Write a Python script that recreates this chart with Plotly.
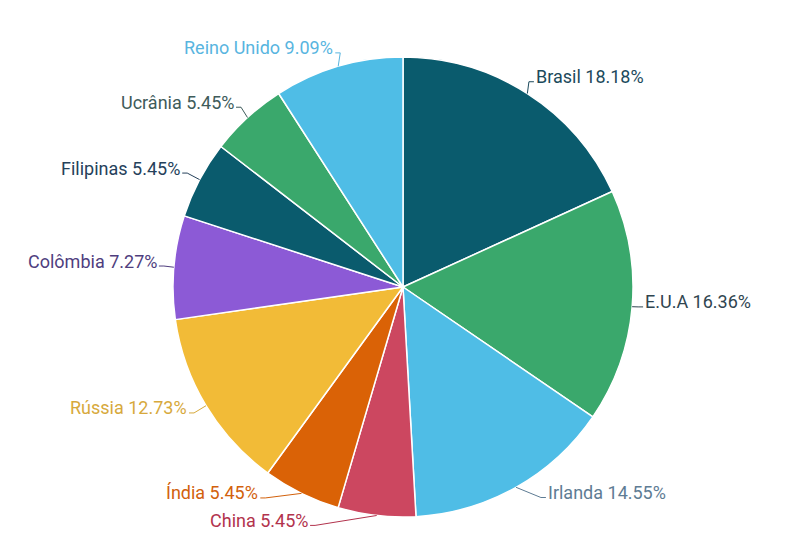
import math
import plotly.graph_objects as go

labels = ["Brasil", "E.U.A", "Irlanda", "China", "Índia", "Rússia",
          "Colômbia", "Filipinas", "Ucrânia", "Reino Unido"]
values = [18.18, 16.36, 14.55, 5.45, 5.45, 12.73, 7.27, 5.45, 5.45, 9.09]
slice_colors = ["#0a5b6d", "#3aa86c", "#4fbde6", "#cc4760", "#da6206",
                "#f2bb37", "#8c5ad6", "#0a5b6d", "#3aa86c", "#4fbde6"]
text_colors = ["#1c4a5c", "#2f4550", "#5e7c94", "#b2334d", "#d2610c",
               "#d7a93c", "#4f3e7e", "#25415b", "#3e5b5a", "#58b5df"]

W, H = 808, 536
OFF = 8  # page body margin shifts the figure
CX, CY, R = 403 - OFF, 287 - OFF, 230

fig = go.Figure(go.Pie(
    labels=labels, values=values, sort=False, direction="clockwise", rotation=0,
    marker=dict(colors=slice_colors, line=dict(color="white", width=1.5)),
    textinfo="none", hoverinfo="label+percent",
    domain=dict(x=[(CX - R) / W, (CX + R) / W], y=[1 - (CY + R) / H, 1 - (CY - R) / H]),
))

def px(x):
    return x / W

def py(y):
    return 1 - y / H

# label nudges (pixels) for crowded labels
nudge = {"China": (-60, -4), "Índia": (-30, -8), "Irlanda": (18, -2), "E.U.A": (-8, -1),
         "Brasil": (-6, 0), "Reino Unido": (6, 0), "Colômbia": (4, 0), "Ucrânia": (3, 0)}

total = sum(values)
cum = 0.0
annotations, shapes = [], []
for lab, v, tc in zip(labels, values, text_colors):
    mid = (cum + v / 2) / total * 2 * math.pi
    cum += v
    s, c = math.sin(mid), -math.cos(mid)
    x0, y0 = CX + R * s, CY + R * c
    x1, y1 = CX + (R + 14) * s, CY + (R + 14) * c
    dx, dy = nudge.get(lab, (0, 0))
    x1 += dx
    y1 += dy
    right = s > 0
    x2 = x1 + (5 if right else -5)
    shapes.append(dict(
        type="path", xref="paper", yref="paper",
        path=f"M {px(x0)},{py(y0)} L {px(x1)},{py(y1)} L {px(x2)},{py(y1)}",
        line=dict(color=tc, width=1),
    ))
    annotations.append(dict(
        x=px(x2), y=py(y1 - 5), xref="paper", yref="paper",
        text=f"{lab} {v:.2f}%", showarrow=False,
        xanchor="left" if right else "right", yanchor="middle",
        font=dict(family="Roboto", size=18, color=tc),
    ))

fig.update_layout(
    width=W, height=H, margin=dict(l=0, r=0, t=0, b=0),
    paper_bgcolor="white", plot_bgcolor="white", showlegend=False,
    annotations=annotations, shapes=shapes,
)
fig.write_html("out.html")
